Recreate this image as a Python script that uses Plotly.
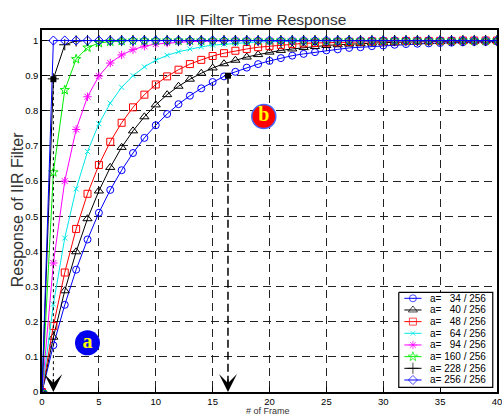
import plotly.graph_objects as go

frames = list(range(41))

y_a34 = [0, 0.133, 0.248, 0.348, 0.434, 0.510, 0.575, 0.631, 0.680, 0.723, 0.759,
         0.791, 0.819, 0.843, 0.864, 0.882, 0.898, 0.911, 0.923, 0.933, 0.942,
         0.950, 0.957, 0.962, 0.967, 0.972, 0.975, 0.979, 0.981, 0.984, 0.986,
         0.988, 0.990, 0.991, 0.992, 0.993, 0.994, 0.995, 0.996, 0.996, 0.997]
y_a40 = [0, 0.156, 0.288, 0.399, 0.493, 0.572, 0.639, 0.696, 0.743, 0.783, 0.817,
         0.846, 0.870, 0.890, 0.907, 0.922, 0.934, 0.944, 0.953, 0.960, 0.967,
         0.972, 0.976, 0.980, 0.983, 0.986, 0.988, 0.990, 0.991, 0.993, 0.994,
         0.995, 0.996, 0.996, 0.997, 0.997, 0.998, 0.998, 0.998, 0.999, 0.999]
y_a48 = [0, 0.188, 0.340, 0.464, 0.564, 0.646, 0.712, 0.766, 0.810, 0.846, 0.875,
         0.898, 0.917, 0.933, 0.945, 0.956, 0.964, 0.971, 0.976, 0.981, 0.984,
         0.987, 0.990, 0.992, 0.993, 0.994, 0.995, 0.996, 0.997, 0.998, 0.998,
         0.998, 0.999, 0.999, 0.999, 0.999, 0.999, 1.0, 1.0, 1.0, 1.0]
y_a64 = [0, 0.250, 0.438, 0.578, 0.684, 0.763, 0.822, 0.867, 0.900, 0.925, 0.944,
         0.958, 0.968, 0.976, 0.982, 0.987, 0.990, 0.992, 0.994, 0.996, 0.997,
         0.998, 0.998, 0.999, 0.999, 0.999, 0.999, 1.0, 1.0, 1.0, 1.0,
         1.0, 1.0, 1.0, 1.0, 1.0, 1.0, 1.0, 1.0, 1.0, 1.0]
y_a94 = [0, 0.367, 0.600, 0.747, 0.840, 0.899, 0.936, 0.959, 0.974, 0.984, 0.990,
         0.993, 0.996, 0.997, 0.998, 0.999, 0.999, 1.0, 1.0, 1.0, 1.0,
         1.0, 1.0, 1.0, 1.0, 1.0, 1.0, 1.0, 1.0, 1.0, 1.0,
         1.0, 1.0, 1.0, 1.0, 1.0, 1.0, 1.0, 1.0, 1.0, 1.0]
y_a160 = [0, 0.625, 0.859, 0.947, 0.980, 0.993, 0.997, 0.999, 1.0, 1.0, 1.0,
          1.0, 1.0, 1.0, 1.0, 1.0, 1.0, 1.0, 1.0, 1.0, 1.0,
          1.0, 1.0, 1.0, 1.0, 1.0, 1.0, 1.0, 1.0, 1.0, 1.0,
          1.0, 1.0, 1.0, 1.0, 1.0, 1.0, 1.0, 1.0, 1.0, 1.0]
y_a228 = [0, 0.891, 0.988, 0.999, 1.0, 1.0, 1.0, 1.0, 1.0, 1.0, 1.0,
          1.0, 1.0, 1.0, 1.0, 1.0, 1.0, 1.0, 1.0, 1.0, 1.0,
          1.0, 1.0, 1.0, 1.0, 1.0, 1.0, 1.0, 1.0, 1.0, 1.0,
          1.0, 1.0, 1.0, 1.0, 1.0, 1.0, 1.0, 1.0, 1.0, 1.0]
y_a256 = [0] + [1.0] * 40

series_names = ["a=\u00a0\u00a0\u00a034 / 256", "a=\u00a0\u00a0\u00a040 / 256",
                "a=\u00a0\u00a0\u00a048 / 256", "a=\u00a0\u00a0\u00a064 / 256",
                "a=\u00a0\u00a0\u00a094 / 256", "a=\u00a0160 / 256",
                "a=\u00a0228 / 256", "a=\u00a0256 / 256"]
series_values = [y_a34, y_a40, y_a48, y_a64, y_a94, y_a160, y_a228, y_a256]
series_colors = ["#0000ff", "#000000", "#ff0000", "#00e8e8", "#ff00ff",
                 "#00ee00", "#000000", "#0000ff"]
series_symbols = ["circle-open", "triangle-up-open", "square-open", "x-thin-open",
                  "asterisk-open", "star-open", "cross-thin-open", "diamond-open"]
series_sizes = [7, 8, 7, 5, 7, 7, 8, 7]

# marked points (dots) and annotation labels
dot_x = [1, 16.35]
dot_y = [0.89, 0.9]
label_a = (4, 0.14)
label_b = (19.5, 0.784)

fig = go.Figure()
for name, vals, col, sym, sz in zip(series_names, series_values, series_colors,
                                     series_symbols, series_sizes):
    fig.add_trace(go.Scatter(
        x=frames, y=vals, name=name, mode="lines+markers", showlegend=False,
        line=dict(color=col, width=1),
        marker=dict(symbol=sym, size=sz, color=col, line=dict(color=col, width=1)),
    ))

# guide lines
fig.add_shape(type="line", x0=dot_x[0], x1=dot_x[0], y0=dot_y[0], y1=0.02,
              line=dict(color="black", width=1, dash="dot"))
fig.add_shape(type="line", x0=dot_x[1], x1=dot_x[1], y0=dot_y[1], y1=0.02,
              line=dict(color="black", width=1.5, dash="8px,4px"))
for xv in dot_x:
    fig.add_annotation(x=xv, y=0, ax=0, ay=-14, showarrow=True, arrowhead=3,
                       arrowsize=2.0, arrowwidth=1.5, arrowcolor="black", text="",
                       xref="x", yref="y")

fig.add_trace(go.Scatter(x=dot_x, y=dot_y, mode="markers", showlegend=False,
                         marker=dict(symbol="square", size=6, color="black")))

fig.add_trace(go.Scatter(x=[label_a[0]], y=[label_a[1]], mode="markers+text",
                         showlegend=False, text=["<b>a</b>"],
                         textposition="middle center",
                         textfont=dict(family="Liberation Serif, serif", size=20, color="#ffff00"),
                         marker=dict(size=25, color="#0000ee", line=dict(width=0))))
fig.add_trace(go.Scatter(x=[label_b[0]], y=[label_b[1]], mode="markers+text",
                         showlegend=False, text=["<b>b</b>"],
                         textposition="middle center",
                         textfont=dict(family="Liberation Serif, serif", size=20, color="#ffff00"),
                         marker=dict(size=24, color="#ff0000", line=dict(width=1.5, color="#4466ff"))))

# ---- legend drawn on a hidden overlay axis measured in pixels ----
ML, MR, MT, MB, W, H = 42, 0, 30, 25, 502, 417
leg_box = (402.7, 497.7, 292.3, 387.3)
leg_row0, leg_dy = 298.3, 11.67
leg_line = (408.3, 425.7)
leg_text_x = 432.7

bx0, bx1, by0, by1 = leg_box
fig.add_trace(go.Scatter(x=[bx0, bx1, bx1, bx0, bx0], y=[by0, by0, by1, by1, by0],
                         xaxis="x2", yaxis="y2", mode="lines", fill="toself",
                         fillcolor="white", line=dict(color="black", width=1.2),
                         showlegend=False, hoverinfo="skip"))
for i, (name, col, sym, sz) in enumerate(zip(series_names, series_colors,
                                             series_symbols, series_sizes)):
    ry = leg_row0 + i * leg_dy
    xm = (leg_line[0] + leg_line[1]) / 2
    fig.add_trace(go.Scatter(x=[leg_line[0], xm, leg_line[1]], y=[ry, ry, ry],
                             xaxis="x2", yaxis="y2", mode="lines+markers", showlegend=False,
                             line=dict(color=col, width=1),
                             marker=dict(symbol=sym, size=[0, sz, 0], color=col,
                                         line=dict(color=col, width=[0, 1, 0])),
                             hoverinfo="skip"))
    fig.add_annotation(text=name, xref="x2", yref="y2", x=leg_text_x, y=ry,
                       xanchor="left", yanchor="middle", showarrow=False,
                       font=dict(family="Liberation Sans, Arial", size=10, color="black"))

axis_common = dict(showline=True, linecolor="black", linewidth=1.5, mirror=True,
                   ticks="inside", ticklen=5, tickcolor="black",
                   showgrid=True, gridcolor="#222222", gridwidth=1, griddash="8px,5px",
                   zeroline=False, ticklabeloverflow="allow",
                   tickfont=dict(family="Liberation Sans, Arial", size=9.5, color="black"))

fig.update_xaxes(range=[0, 40], tickvals=[0, 5, 10, 15, 20, 25, 30, 35, 40],
                 ticktext=["0", "5", "10", "15", "20", "25", "30", "35", "40"], **axis_common)
fig.update_yaxes(range=[0, 1.03], tickvals=[0, 0.1, 0.2, 0.3, 0.4, 0.5, 0.6, 0.7, 0.8, 0.9, 1],
                 ticktext=["0", "0.1", "0.2", "0.3", "0.4", "0.5", "0.6", "0.7", "0.8", "0.9", "1"],
                 **axis_common)

fig.update_layout(
    xaxis2=dict(overlaying="x", range=[ML, W - MR], visible=False, fixedrange=True),
    yaxis2=dict(overlaying="y", range=[H - MB, MT], visible=False, fixedrange=True),
)

fig.add_annotation(text="Response of IIR Filter", xref="paper", yref="paper",
                   x=(18 - ML) / (W - ML - MR), y=(H - MB - 210) / (H - MT - MB),
                   xanchor="center", yanchor="middle", textangle=-90, showarrow=False,
                   font=dict(family="Liberation Sans, Arial", size=16, color="#333333"))
fig.add_annotation(text="# of Frame", xref="paper", yref="paper",
                   x=(270 - ML) / (W - ML - MR), y=(H - MB - 411) / (H - MT - MB),
                   xanchor="center", yanchor="middle", showarrow=False,
                   font=dict(family="Liberation Sans, Arial", size=9, color="#333333"))

fig.update_layout(
    width=W, height=H,
    margin=dict(l=ML, r=MR, t=MT, b=MB),
    paper_bgcolor="white", plot_bgcolor="white",
    title=dict(text="IIR Filter Time Response", x=261 / W, xanchor="center",
               y=1 - 20 / H, yanchor="middle",
               font=dict(family="Liberation Sans, Arial", size=15.5, color="#333333")),
    showlegend=False,
)

fig.write_html("out.html")
